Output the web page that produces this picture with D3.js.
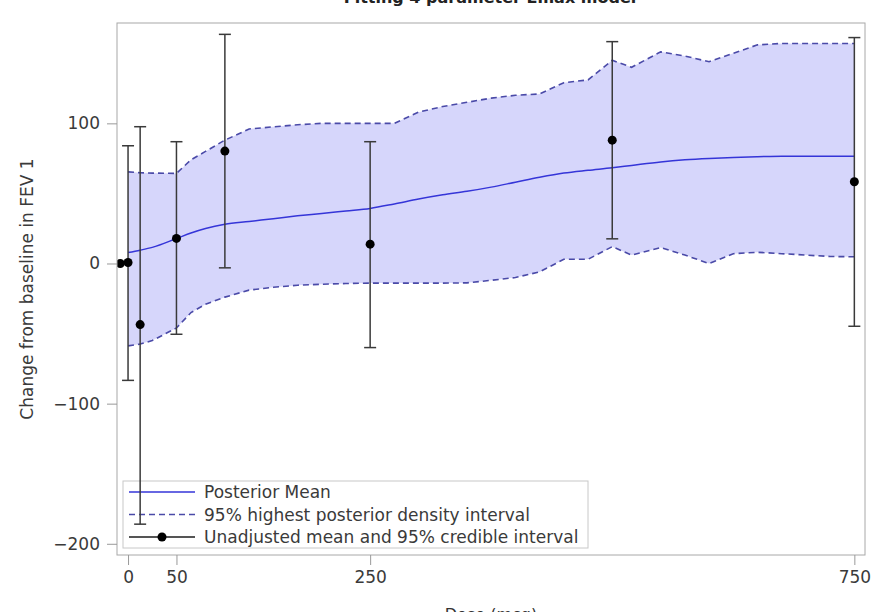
<!DOCTYPE html>
<html>
<head>
<meta charset="utf-8">
<script src="https://cdn.jsdelivr.net/npm/d3@7"></script>
<style>
  body{margin:0;background:#fff;}
  text{font-family:"DejaVu Sans",sans-serif;}
</style>
</head>
<body>
<svg></svg>
<script>
// fitted curve grid (dose in mcg)
var gridDose  = [0,12.5,25,50,65,80,100,125,150,175,200,225,250,275,300,325,350,375,400,425,450,475,500,520,550,575,600,625,650,675,700,725,750];
var postMean  = [7.8,9.5,11.5,17.8,21.8,25,28,30,32,34,35.7,37.5,39.3,42.5,46,49,51.5,54.5,58,61.5,64.5,66.5,68.3,70,72.5,74,75,75.7,76.2,76.6,76.6,76.6,76.6];
var hpdUpper  = [65.4,64.7,64.5,64.3,74,80,88,96,97.5,99,100,100,100,100,108,112,115,118,120,121,129,131,145,140,151,148,144,150,156,157,157,157,157];
var hpdLower  = [-58.8,-57.5,-55,-46,-35,-29,-24,-19,-17,-15.5,-14.8,-14.3,-14,-14,-14,-14,-13.8,-12,-10,-6,3,3,12,6,11.4,6,0,7,8,7,6,5,4.8];

// unadjusted means with 95% credible intervals
var obsDose  = [-8,0,12.5,50,100,250,500,750];
var obsMean  = [0,0.7,-43.6,17.9,80.2,13.8,88,58.3];
var obsLow   = [null,-83.4,-186,-50.5,-3.1,-60,17.6,-44.8];
var obsHigh  = [null,84,97.6,86.9,163.5,86.9,158.3,161.2];

var xTicks = [0,50,250,750];
var yTicks = [-200,-100,0,100];

var legendItems = ["Posterior Mean","95% highest posterior density interval","Unadjusted mean and 95% credible interval"];

draw();

function draw(){
  var width = 872, height = 612;
  var left = 117, right = 865, top = 23, bottom = 555;

  var svg = d3.select("svg")
              .attr("width",width)
              .attr("height",height);

  var x = d3.scaleLinear().domain([-11.4,761]).range([left,right]);
  var y = d3.scaleLinear().domain([-208,171.6]).range([bottom,top]);

  svg.append("defs").append("clipPath")
     .attr("id","plotClip")
     .append("rect")
     .attr("x",left).attr("y",top)
     .attr("width",right-left).attr("height",bottom-top);

  var grid = gridDose.map(function(d,i){
    return {dose:d, mean:postMean[i], hi:hpdUpper[i], lo:hpdLower[i]};
  });
  var obs = obsDose.map(function(d,i){
    return {dose:d, mean:obsMean[i], lo:obsLow[i], hi:obsHigh[i]};
  });

  var plot = svg.append("g").attr("clip-path","url(#plotClip)");

  // HPD band
  plot.append("path")
      .datum(grid)
      .attr("d",d3.area()
                  .x(function(d){return x(d.dose);})
                  .y0(function(d){return y(d.lo);})
                  .y1(function(d){return y(d.hi);}))
      .attr("fill","#d6d6fb");

  ["hi","lo"].forEach(function(k){
    plot.append("path")
        .datum(grid)
        .attr("d",d3.line()
                    .x(function(d){return x(d.dose);})
                    .y(function(d){return y(d[k]);}))
        .attr("fill","none")
        .attr("stroke","#4a4aa8")
        .attr("stroke-width",1.6)
        .attr("stroke-dasharray","6,4");
  });

  plot.append("path")
      .datum(grid)
      .attr("d",d3.line()
                  .curve(d3.curveMonotoneX)
                  .x(function(d){return x(d.dose);})
                  .y(function(d){return y(d.mean);}))
      .attr("fill","none")
      .attr("stroke","#3535d8")
      .attr("stroke-width",1.5);

  // legend (bars are drawn over it)
  var lg = svg.append("g");
  lg.append("rect")
    .attr("x",123).attr("y",481)
    .attr("width",465).attr("height",67)
    .attr("fill","#fff")
    .attr("stroke","#c8c8c8");
  var rows = lg.selectAll("g.row")
               .data(legendItems)
               .enter()
               .append("g")
               .attr("class","row")
               .attr("transform",function(d,i){return "translate(0,"+(492+i*22.5)+")";});
  rows.append("line")
      .attr("x1",129).attr("x2",195)
      .attr("stroke",function(d,i){return i==2?"#555":(i==1?"#4a4aa8":"#3535d8");})
      .attr("stroke-width",function(d,i){return i==2?2:1.5;})
      .attr("stroke-dasharray",function(d,i){return i==1?"6,4":null;});
  rows.filter(function(d,i){return i==2;})
      .append("circle")
      .attr("cx",162).attr("r",4.5).attr("fill","#000");
  rows.append("text")
      .attr("x",204).attr("y",6)
      .attr("font-size",17)
      .attr("fill","#3a3a3a")
      .text(function(d){return d;});

  // error bars and points, above the legend
  var marks = svg.append("g").attr("clip-path","url(#plotClip)");
  var bars = obs.filter(function(d){return d.lo!==null;});
  var eb = marks.selectAll("g.bar")
               .data(bars)
               .enter()
               .append("g")
               .attr("class","bar")
               .attr("stroke","#3a3a3a")
               .attr("stroke-width",1.5);
  eb.append("line")
    .attr("x1",function(d){return x(d.dose);})
    .attr("x2",function(d){return x(d.dose);})
    .attr("y1",function(d){return y(d.lo);})
    .attr("y2",function(d){return y(d.hi);});
  ["lo","hi"].forEach(function(k){
    eb.append("line")
      .attr("x1",function(d){return x(d.dose)-6;})
      .attr("x2",function(d){return x(d.dose)+6;})
      .attr("y1",function(d){return y(d[k]);})
      .attr("y2",function(d){return y(d[k]);});
  });
  marks.selectAll("circle.pt")
      .data(obs)
      .enter()
      .append("circle")
      .attr("class","pt")
      .attr("cx",function(d){return x(d.dose);})
      .attr("cy",function(d){return y(d.mean);})
      .attr("r",4.5)
      .attr("fill","#000");

  // frame
  svg.append("rect")
     .attr("x",left).attr("y",top)
     .attr("width",right-left).attr("height",bottom-top)
     .attr("fill","none")
     .attr("stroke","#a8a8a8");

  // axes
  var ax = svg.append("g")
              .attr("transform","translate(0,"+bottom+")")
              .call(d3.axisBottom(x).tickValues(xTicks).tickSize(10).tickPadding(6));
  var ay = svg.append("g")
              .attr("transform","translate("+left+",0)")
              .call(d3.axisLeft(y).tickValues(yTicks).tickSize(10).tickPadding(7).tickFormat(d3.format("d")));
  [ax,ay].forEach(function(a){
    a.select(".domain").remove();
    a.selectAll("line").attr("stroke","#999");
    a.selectAll("text").attr("font-size",17).attr("fill","#3a3a3a")
     .style("font-family","'DejaVu Sans',sans-serif");
  });
  ay.selectAll("text").text(function(d){return d<0?"\u2212"+Math.abs(d):d;});

  svg.append("text")
     .attr("transform","translate(33,"+((top+bottom)/2)+") rotate(-90)")
     .attr("text-anchor","middle")
     .attr("font-size",17)
     .attr("fill","#3a3a3a")
     .text("Change from baseline in FEV 1");

  // title and x label, both cut by the page edges as in the source image
  svg.append("text")
     .attr("x",490).attr("y",3)
     .attr("text-anchor","middle")
     .attr("font-size",16)
     .attr("font-weight","bold")
     .attr("fill","#222")
     .text("Fitting 4 parameter Emax model");

  svg.append("text")
     .attr("x",491).attr("y",620)
     .attr("text-anchor","middle")
     .attr("font-size",16)
     .attr("fill","#333")
     .text("Dose (mcg)");
}
</script>
</body>
</html>
